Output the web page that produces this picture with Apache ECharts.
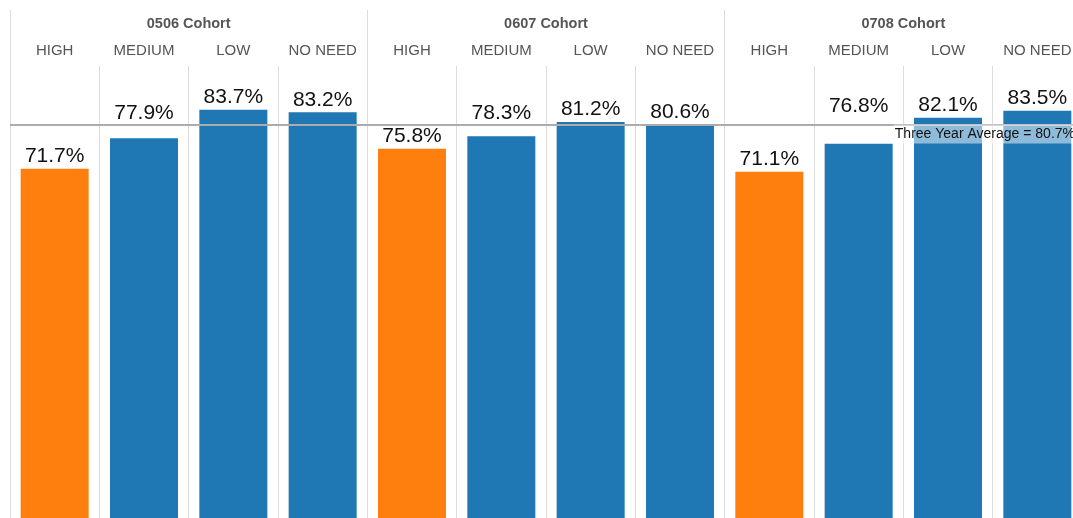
<!DOCTYPE html>
<html>
<head>
<meta charset="utf-8">
<script src="https://cdn.jsdelivr.net/npm/echarts@6/dist/echarts.min.js"></script>
<style>
  html, body { margin: 0; padding: 0; background: #fff; }
  #chart { width: 1073px; height: 518px; }
</style>
</head>
<body>
<div id="chart"></div>
<script>
// data
const cohorts = ['0506 Cohort', '0607 Cohort', '0708 Cohort'];
const needLevels = ['HIGH', 'MEDIUM', 'LOW', 'NO NEED'];
const values0506 = [71.7, 77.9, 83.7, 83.2];
const values0607 = [75.8, 78.3, 81.2, 80.6];
const values0708 = [71.1, 76.8, 82.1, 83.5];
const threeYearAverage = 80.7;

const categories = cohorts.flatMap(() => needLevels);
const values = [].concat(values0506, values0607, values0708);

const font = 'Liberation Sans, Arial, sans-serif';
const gridColor = '#dcdcdc';
const labelSize = 21;
const avgLabelWidth = 185; // approx width of the reference line label box

const chart = echarts.init(document.getElementById('chart'));
chart.setOption({
  animation: false,
  grid: { left: 10, top: 66, width: 1072, height: 455.5, outerBoundsMode: 'none' },
  xAxis: [
    {
      type: 'category',
      position: 'top',
      data: categories,
      axisLine: { show: true, lineStyle: { color: gridColor, width: 1 } },
      axisTick: { show: true, length: 29, interval: 0, lineStyle: { color: gridColor } },
      axisLabel: {
        interval: 0, margin: 15, verticalAlign: 'middle',
        color: '#555', fontSize: 15, fontFamily: font
      },
      splitLine: { show: true, interval: 0, lineStyle: { color: gridColor, width: 1 } }
    },
    {
      type: 'category',
      position: 'top',
      data: cohorts,
      axisLine: { show: false },
      axisTick: { show: true, length: 56, interval: 0, lineStyle: { color: gridColor } },
      axisLabel: {
        interval: 0, margin: 42, verticalAlign: 'middle',
        color: '#555', fontSize: 14.5, fontWeight: 'bold', fontFamily: font
      },
      splitLine: { show: false }
    }
  ],
  yAxis: { type: 'value', min: 0, max: 92.6, show: false },
  series: [{
    type: 'bar',
    xAxisIndex: 0,
    data: values,
    barWidth: 68,
    itemStyle: {
      color: (p) => (categories[p.dataIndex] === 'HIGH' ? '#ff7f0e' : '#1f77b4')
    },
    label: {
      show: true, position: 'top', distance: 2,
      formatter: '{c}%', color: '#111', fontSize: labelSize, fontFamily: font
    },
    markLine: {
      silent: true,
      symbol: 'none',
      lineStyle: { color: '#acacac', width: 2, type: 'solid' },
      label: {
        show: true,
        position: 'insideEndBottom',
        distance: [6, 0],
        formatter: 'Three Year Average = {c}%',
        color: '#111', fontSize: 14, fontFamily: font,
        backgroundColor: 'rgba(255,255,255,0.5)',
        padding: [3, 1, 2, 1]
      },
      data: [{ yAxis: threeYearAverage }]
    }
  }]
});

// move value labels that would sit on the average line (or its label) above it
const lineY = chart.convertToPixel({ seriesIndex: 0 }, [0, threeYearAverage])[1];
const avgLabelLeft = chart.getWidth() - avgLabelWidth;
const liftedData = values.map((v, i) => {
  const [cx, topY] = chart.convertToPixel({ seriesIndex: 0 }, [i, v]);
  const digitBottom = topY - 6;
  const digitTop = digitBottom - 16;
  if (digitBottom > lineY - 2 && digitTop < lineY + 1.5) {
    const hitsAvgLabel = cx + 30 > avgLabelLeft - 4;
    const target = lineY - (hitsAvgLabel ? 12 : 4.5);
    return { value: v, label: { offset: [0, target - digitBottom] } };
  }
  return v;
});
chart.setOption({ series: [{ data: liftedData }] });
</script>
</body>
</html>
